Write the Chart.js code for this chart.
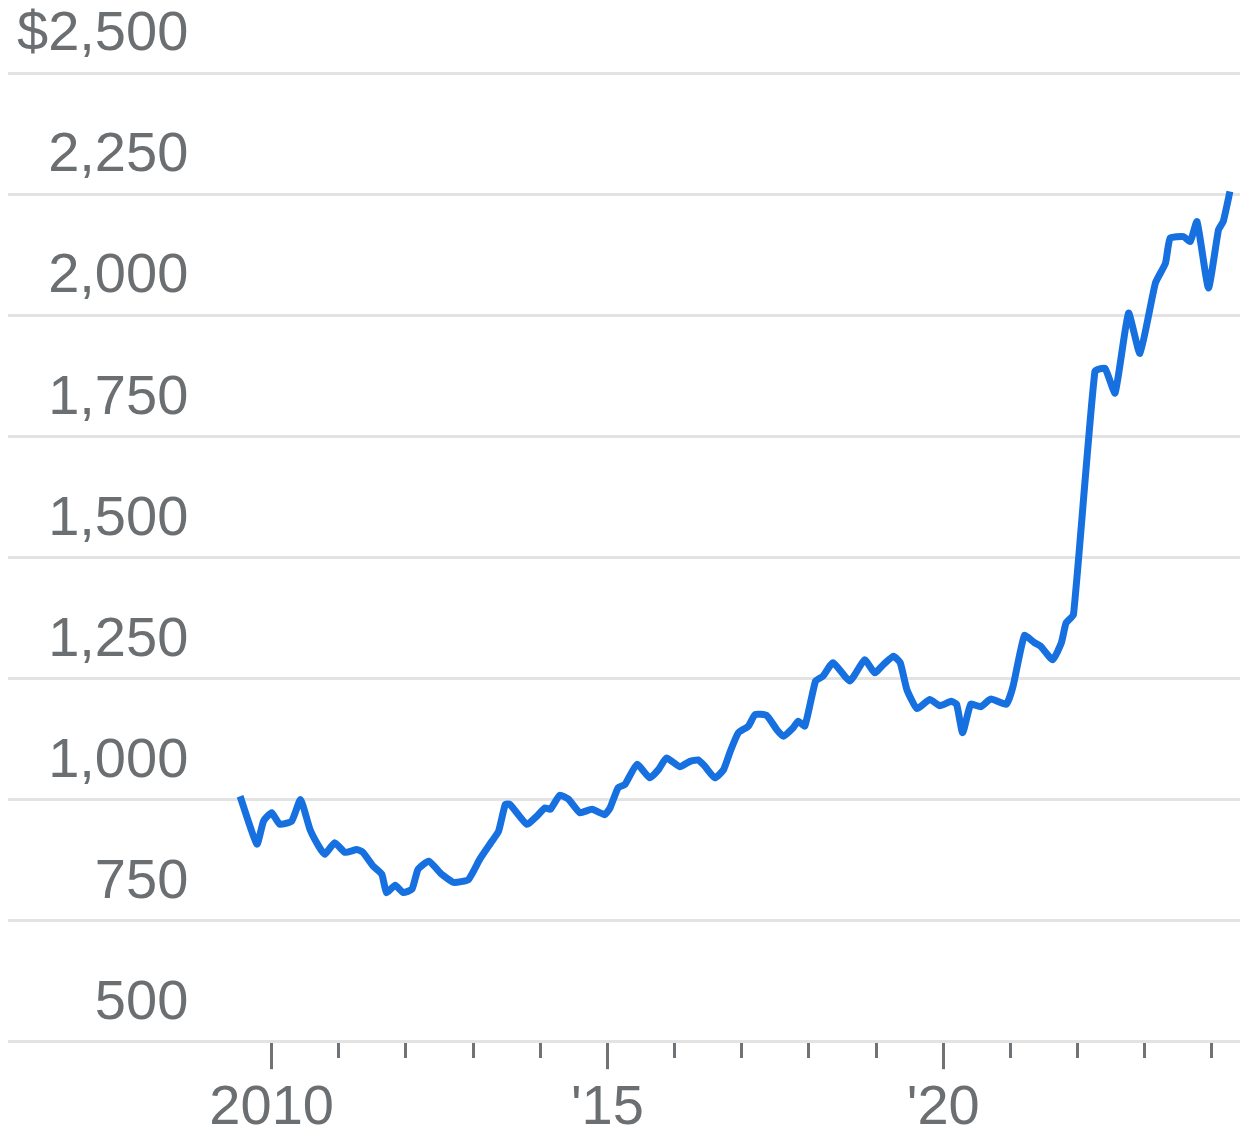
<!DOCTYPE html>
<html>
<head>
<meta charset="utf-8">
<title>Price history</title>
<script src="https://cdn.jsdelivr.net/npm/chart.js@4/dist/chart.umd.min.js"></script>
<style>
  html, body { margin: 0; padding: 0; background: #ffffff; }
  #wrap { position: relative; width: 1240px; height: 1131px; }
</style>
</head>
<body>
<div id="wrap"><canvas id="chart"></canvas></div>
<script>
// Observation dates as decimal years
const dates = [
  2009.53, 2009.78, 2009.88, 2010.00, 2010.12, 2010.30, 2010.43, 2010.57, 2010.70, 2010.79,
  2010.94, 2011.09, 2011.27, 2011.36, 2011.51, 2011.64, 2011.71, 2011.84, 2011.96, 2012.09,
  2012.18, 2012.34, 2012.53, 2012.71, 2012.93, 2013.10, 2013.28, 2013.38, 2013.48, 2013.55,
  2013.80, 2013.95, 2014.07, 2014.15, 2014.29, 2014.42, 2014.59, 2014.77, 2014.96, 2015.04,
  2015.16, 2015.26, 2015.44, 2015.63, 2015.76, 2015.88, 2016.08, 2016.23, 2016.35, 2016.45,
  2016.60, 2016.73, 2016.83, 2016.95, 2017.10, 2017.20, 2017.37, 2017.52, 2017.62, 2017.77,
  2017.84, 2017.94, 2018.10, 2018.21, 2018.36, 2018.61, 2018.83, 2018.98, 2019.11, 2019.26,
  2019.36, 2019.46, 2019.61, 2019.80, 2019.95, 2020.12, 2020.20, 2020.29, 2020.41, 2020.56,
  2020.71, 2020.94, 2021.04, 2021.21, 2021.36, 2021.45, 2021.63, 2021.76, 2021.83, 2021.94,
  2022.26, 2022.41, 2022.56, 2022.76, 2022.93, 2023.16, 2023.31, 2023.38, 2023.58, 2023.68,
  2023.78, 2023.95, 2024.10, 2024.17, 2024.27
];

// Price in dollars at each date
const prices = [
  1006, 907, 955, 972, 948, 955, 999, 938, 903, 886,
  910, 890, 896, 890, 862, 845, 807, 822, 807, 814,
  855, 872, 845, 828, 834, 876, 913, 934, 989, 989,
  948, 965, 982, 979, 1008, 1000, 972, 979, 968, 982,
  1024, 1030, 1072, 1044, 1061, 1085, 1067, 1078, 1081, 1068,
  1044, 1061, 1099, 1137, 1151, 1175, 1173, 1144, 1130, 1148,
  1161, 1151, 1244, 1254, 1282, 1244, 1288, 1261, 1278, 1295,
  1282, 1226, 1187, 1206, 1193, 1202, 1196, 1137, 1196, 1191,
  1207, 1196, 1233, 1338, 1323, 1316, 1288, 1323, 1364, 1381,
  1884, 1890, 1839, 2004, 1921, 2066, 2107, 2159, 2162, 2152,
  2193, 2056, 2176, 2193, 2255
];

// Year ticks along the bottom and their labels
const tickYears = [2010, 2011, 2012, 2013, 2014, 2015, 2016, 2017, 2018, 2019, 2020, 2021, 2022, 2023, 2024];
const tickLabels = ['2010', '', '', '', '', "'15", '', '', '', '', "'20", '', '', '', ''];

// Price gridlines and their labels
const priceTicks = [500, 750, 1000, 1250, 1500, 1750, 2000, 2250, 2500];
const priceLabels = ['500', '750', '1,000', '1,250', '1,500', '1,750', '2,000', '2,250', '$2,500'];

const FONT = "'Liberation Sans', Helvetica, Arial, sans-serif";
const TEXT = '#6b6f72';
const GRID = '#e3e3e3';
const LINE = '#1670e0';

new Chart(document.getElementById('chart'), {
  type: 'line',
  data: {
    datasets: [{
      data: dates.map((d, i) => ({ x: d, y: prices[i] })),
      borderColor: LINE,
      borderWidth: 7,
      pointRadius: 0,
      tension: 0.15,
      borderJoinStyle: 'round',
      borderCapStyle: 'butt',
      fill: false
    }]
  },
  options: {
    responsive: true,
    maintainAspectRatio: false,
    devicePixelRatio: 1,
    animation: false,
    events: [],
    // the mirrored value axis still reserves twice its tick padding, and the
    // year axis twice its label padding; the negative offsets take that back
    layout: { padding: { left: -10, right: 0, top: 73, bottom: -17 } },
    plugins: { legend: { display: false }, tooltip: { enabled: false } },
    scales: {
      x: {
        type: 'linear',
        bounds: 'data',
        min: 2006.074,
        max: 2024.42,
        afterBuildTicks: (scale) => { scale.ticks = tickYears.map(v => ({ value: v })); },
        border: { display: false },
        grid: {
          drawOnChartArea: false,
          drawTicks: true,
          tickLength: 28,
          tickWidth: 3,
          tickColor: '#6f7375',
          // short marks for the in-between years
          tickBorderDash: (ctx) => (ctx.tick && ctx.tick.value % 5 === 0) ? [] : [17, 200]
        },
        ticks: {
          autoSkip: false,
          maxRotation: 0,
          minRotation: 0,
          padding: 17,
          color: TEXT,
          font: { family: FONT, size: 56, lineHeight: 0.8 },
          callback: (value, index) => tickLabels[index]
        }
      },
      y: {
        type: 'linear',
        min: 500,
        max: 2500,
        afterBuildTicks: (scale) => { scale.ticks = priceTicks.map(v => ({ value: v })); },
        border: { display: false },
        grid: {
          color: GRID,
          lineWidth: 3,
          drawTicks: false
        },
        ticks: {
          mirror: true,
          crossAlign: 'far',
          padding: 9,
          labelOffset: -38,
          color: TEXT,
          font: { family: FONT, size: 56 },
          callback: (value, index) => priceLabels[index]
        }
      }
    }
  }
});
</script>
</body>
</html>
